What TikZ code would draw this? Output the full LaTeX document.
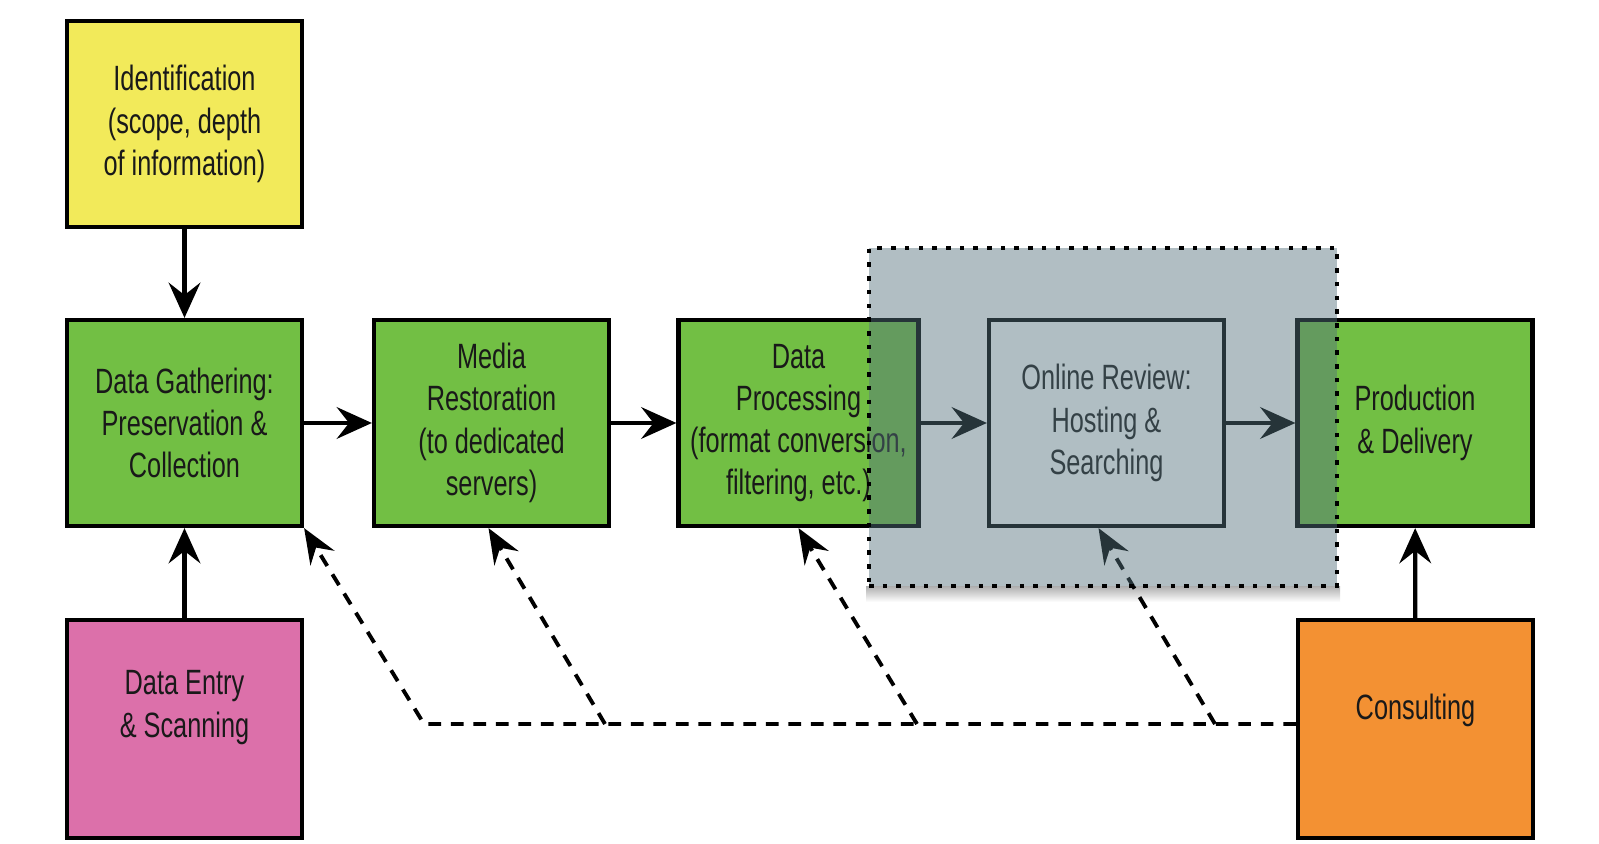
\documentclass[tikz,border=0pt]{standalone}
\usepackage{fontspec}
\setmainfont{Liberation Sans}[FakeStretch=0.72]
\usetikzlibrary{arrows.meta}

\definecolor{idyellow}{RGB}{242,234,90}
\definecolor{stepgreen}{RGB}{114,191,68}
\definecolor{entrypink}{RGB}{220,112,170}
\definecolor{consorange}{RGB}{243,145,51}
\definecolor{zonegray}{RGB}{84,114,125}

\begin{document}
\begin{tikzpicture}[
    box/.style={draw=black,line width=1.2pt,minimum width=2.35cm,minimum height=2.06cm,
        align=center,text=black!90,font=\fontsize{10}{12}\selectfont},
    flow/.style={line width=1.2pt,-{Stealth[length=10pt,width=9pt,inset=3.5pt]}},
    hint/.style={line width=1.1pt,dash pattern=on 3.6pt off 2.8pt,
        -{Stealth[length=10pt,width=8pt,inset=3.5pt]}}
]
\useasboundingbox (0,0) rectangle (15.99,-8.44);

% the steps
\node [box,fill=idyellow] (ident) at (1.845,-1.24) {Identification\\(scope, depth\\of information)};
\node [box,fill=stepgreen] (gather) at (1.845,-4.23) {Data Gathering:\\Preservation \&\\Collection};
\node [box,fill=entrypink,minimum height=2.18cm,text depth=0.5cm] (entry) at (1.845,-7.29) {Data Entry\\\& Scanning};
\node [box,fill=stepgreen] (media) at (4.915,-4.23) {Media\\Restoration\\(to dedicated\\servers)};
\node [box,fill=stepgreen] (proc) at (7.985,-4.23) {Data\\Processing\\(format conversion,\\filtering, etc.)};
\node [box,fill=white] (review) at (11.065,-4.23) {Online Review:\\Hosting \&\\Searching};
\node [box,fill=stepgreen] (prod) at (14.15,-4.23) {Production\\\& Delivery};
\node [box,fill=consorange,minimum height=2.18cm,text depth=0.45cm] (cons) at (14.155,-7.29) {Consulting};

% main flow
\draw [flow] (ident) -- (gather);
\draw [flow] (entry) -- (gather);
\draw [flow] (gather) -- (media);
\draw [flow] (media) -- (proc);
\draw [flow] (proc) -- (review);
\draw [flow] (review) -- (prod);
\draw [flow] (cons) -- (prod);

% shadow under the hosted part
\shade [top color=black!30,bottom color=white] (8.66,-5.87) rectangle (13.40,-6.02);

% consulting feeds back
\coordinate (j1) at (4.24,-7.24);
\coordinate (j2) at (6.05,-7.24);
\coordinate (j3) at (9.17,-7.24);
\coordinate (j4) at (12.15,-7.24);
\draw [hint] (j4 -| cons.west) -- (j4) -- (j3) -- (j2) -- (j1) -- (gather.south east);
\draw [hint] (j2) -- ([xshift=-0.03cm]media.south);
\draw [hint] (j3) -- (proc.south);
\draw [hint] (j4) -- ([xshift=-0.08cm]review.south);

% hosted part
\node [draw=black,line width=1.2pt,dash pattern=on 1.3pt off 2.6pt,fill=zonegray,fill opacity=0.46,
    minimum width=4.68cm,minimum height=3.38cm] (zone) at (11.03,-4.17) {};
\end{tikzpicture}
\end{document}
